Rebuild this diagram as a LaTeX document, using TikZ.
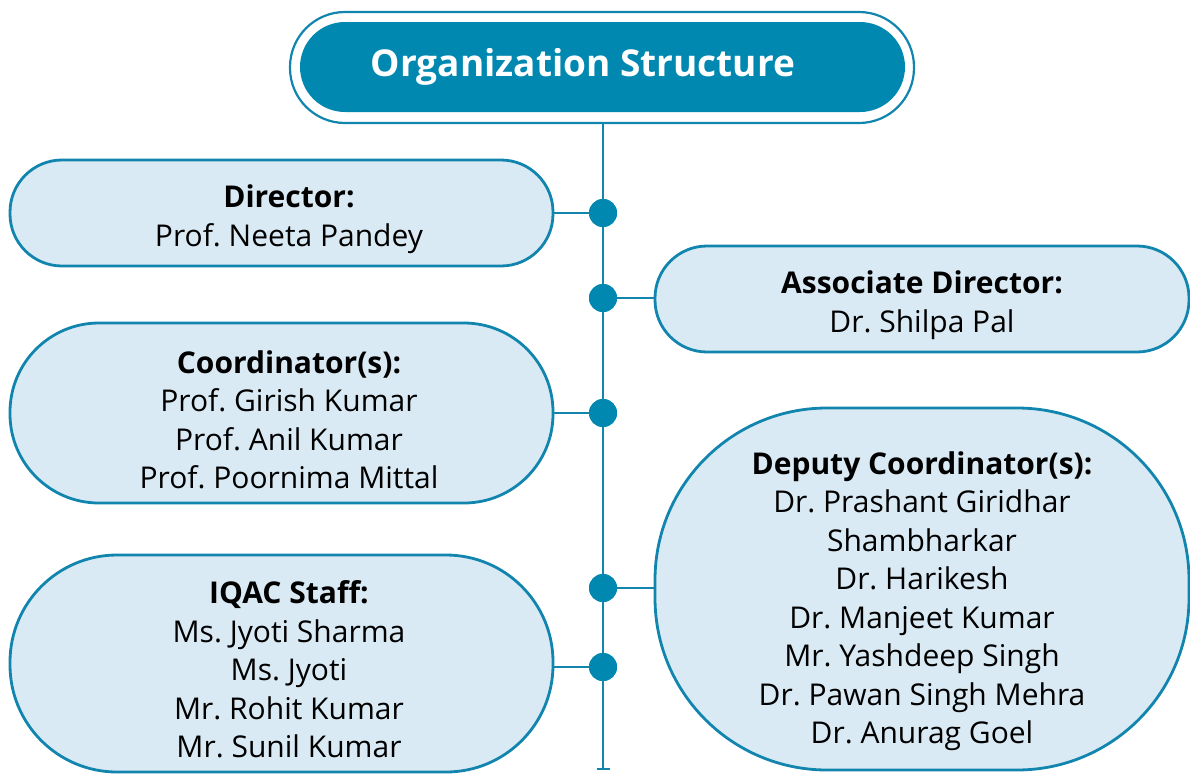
\documentclass[tikz,border=0pt]{standalone}
\usepackage{fontspec}
\setmainfont{Open Sans}[Ligatures={NoCommon}]
\frenchspacing
\definecolor{teal1}{HTML}{0088B0}
\definecolor{edge1}{HTML}{1185AE}
\definecolor{fill1}{HTML}{DAEAF4}
\begin{document}
\begin{tikzpicture}[x=1pt,y=-1pt,
  box/.style={draw=edge1, line width=2.8pt, fill=fill1, inner sep=0pt},
  txt/.style={align=center, font=\fontsize{30}{38.5}\selectfont\frenchspacing, text=black, inner sep=0pt},
  dot/.style={circle, fill=teal1, minimum size=28pt, inner sep=0pt},
  conn/.style={draw=edge1, line width=2.6pt}]
\useasboundingbox (0,0) rectangle (1190,774);
% title
\node[draw=edge1, line width=2.2pt, rounded corners=55pt, minimum width=624pt, minimum height=111pt, inner sep=0pt] (titleout) at (602,67.5) {};
\node[fill=teal1, rounded corners=45pt, minimum width=605pt, minimum height=90pt, inner sep=0pt] (titlein) at (602.5,67) {};
\node[font=\fontsize{37}{40}\bfseries\selectfont, text=white, inner sep=0pt] (titletxt) at (583,67) {Organization Structure};
% boxes
\node[box, rounded corners=52pt, minimum width=543pt, minimum height=106pt] (dir) at (281.5,213) {};
\node[box, rounded corners=52pt, minimum width=534pt, minimum height=106pt] (assoc) at (922,299) {};
\node[box, rounded corners=89pt, minimum width=543pt, minimum height=180pt] (coord) at (281.5,413) {};
\node[box, rounded corners=107pt, minimum width=543pt, minimum height=217pt] (iqac) at (281.5,663.5) {};
\node[box, rounded corners=172pt, minimum width=534pt, minimum height=362pt] (dep) at (922,589) {};
% texts
\node[txt] (dirt) at (289,219) {\textbf{Director:}\\Prof. Neeta Pandey};
\node[txt] (assoct) at (922,305) {\textbf{Associate Director:}\\Dr. Shilpa Pal};
\node[txt] (coordt) at (289,420) {\textbf{Coordinator(s):}\\Prof. Girish Kumar\\Prof. Anil Kumar\\Prof. Poornima Mittal};
\node[txt] (iqact) at (289,669.5) {\textbf{IQAC Staff:}\\Ms. Jyoti Sharma\\Ms. Jyoti\\Mr. Rohit Kumar\\Mr. Sunil Kumar};
\node[txt] (dept) at (922,601) {\textbf{Deputy Coordinator(s):}\\Dr. Prashant Giridhar\\Shambharkar\\Dr. Harikesh\\Dr. Manjeet Kumar\\Mr. Yashdeep Singh\\Dr. Pawan Singh Mehra\\Dr. Anurag Goel};
% spine
\coordinate (top) at (603,123);
\coordinate (bot) at (603,769);
\coordinate (botl) at (597,769);
\coordinate (botr) at (610,769);
\draw[conn] (titleout.south -| top) -- (bot);
\draw[conn] (botl) -- (botr);
% dots
\node[dot] (d1) at (603,213) {};
\node[dot] (d2) at (603,298) {};
\node[dot] (d3) at (603,413) {};
\node[dot] (d4) at (603,588) {};
\node[dot] (d5) at (603,667) {};
\draw[conn] (dir.east) -- (d1);
\draw[conn] (d2) -- (assoc.west |- d2);
\draw[conn] (coord.east) -- (d3);
\draw[conn] (d4) -- (dep.west |- d4);
\draw[conn] (iqac.east |- d5) -- (d5);
\node[dot] at (d1) {};
\node[dot] at (d2) {};
\node[dot] at (d3) {};
\node[dot] at (d4) {};
\node[dot] at (d5) {};
\end{tikzpicture}
\end{document}
